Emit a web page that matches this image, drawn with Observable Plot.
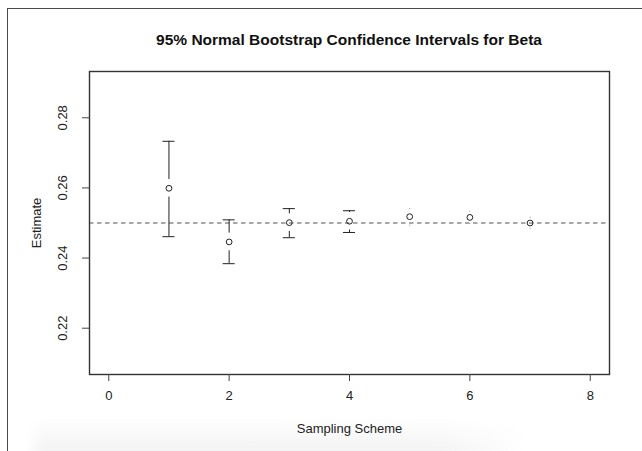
<!DOCTYPE html>
<html>
<head>
<meta charset="utf-8">
<script src="https://cdn.jsdelivr.net/npm/d3@7"></script>
<script src="https://cdn.jsdelivr.net/npm/@observablehq/plot@0.6"></script>
<style>
  body { margin: 0; background: #fff; font-family: "Liberation Sans", Arial, Helvetica, sans-serif; }
  #page { position: relative; width: 642px; height: 451px; overflow: hidden; background: #fff; }
  #edge { position: absolute; left: 7px; top: 8px; right: -4px; bottom: -4px;
          border-top: 1.5px solid #4a4a4a; border-left: 1.5px solid #4a4a4a; }
  #shade { position: absolute; left: 25px; top: 418px; width: 500px; height: 33px;
           background: linear-gradient(to bottom, rgba(235,235,235,0), rgba(235,235,235,0.6));
           -webkit-mask-image: linear-gradient(to right, transparent 0, #000 4%, #000 82%, transparent 100%);
           mask-image: linear-gradient(to right, transparent 0, #000 4%, #000 82%, transparent 100%); }
  #chart { position: absolute; left: 0; top: 0; }
  #title { position: absolute; left: 89px; width: 520px; top: 31px; line-height: 18px;
           text-align: center; font-weight: bold; font-size: 15.5px; color: #111; }
</style>
</head>
<body>
<div id="page">
  <div id="edge"></div>
  <div id="shade"></div>
  <div id="chart"></div>
  <div id="title">95% Normal Bootstrap Confidence Intervals for Beta</div>
</div>
<script>
// Bootstrap estimates of beta with 95% normal confidence limits, per sampling scheme
const scheme   = [1, 2, 3, 4, 5, 6, 7];
const estimate = [0.2599, 0.2446, 0.2501, 0.2505, 0.2518, 0.2516, 0.2500];
const lower    = [0.2461, 0.2384, 0.2458, 0.2473, 0.2494, 0.2499, 0.2485];
const upper    = [0.2733, 0.2509, 0.2541, 0.2535, 0.2541, 0.2534, 0.2516];
const trueBeta = 0.25;

const xTicks = [0, 2, 4, 6, 8];
const yTicks = [0.22, 0.24, 0.26, 0.28];

const rows = scheme.map((s, i) => ({scheme: s, est: estimate[i], lo: lower[i], hi: upper[i]}));

// plotCI-style: whiskers leave a gap around each point; caps only where the bar clears the gap
const gap = 0.0025;
const capHalf = 0.1;
const upBars = rows.filter(d => d.hi > d.est + gap);
const loBars = rows.filter(d => d.lo < d.est - gap);
const upNubs = rows.filter(d => d.hi <= d.est + gap);
const loNubs = rows.filter(d => d.lo >= d.est - gap);

const ink = "#222";

const chart = Plot.plot({
  width: 642,
  height: 451,
  marginLeft: 89,
  marginRight: 33,
  marginTop: 71,
  marginBottom: 77,
  style: {background: "transparent", fontFamily: "Liberation Sans, Arial, sans-serif", color: ink},
  x: {domain: [-0.32, 8.32]},
  y: {domain: [0.2068, 0.2932]},
  marks: [
    Plot.ruleY([trueBeta], {stroke: "#555", strokeDasharray: "4.5,3.5", strokeWidth: 1.1}),
    Plot.ruleX(upBars, {x: "scheme", y1: d => d.est + gap, y2: "hi", stroke: ink}),
    Plot.ruleX(loBars, {x: "scheme", y1: "lo", y2: d => d.est - gap, stroke: ink}),
    Plot.ruleY(upBars, {y: "hi", x1: d => d.scheme - capHalf, x2: d => d.scheme + capHalf, stroke: ink}),
    Plot.ruleY(loBars, {y: "lo", x1: d => d.scheme - capHalf, x2: d => d.scheme + capHalf, stroke: ink}),
    Plot.dot(upNubs, {x: "scheme", y: "hi", r: 0.6, fill: "#999"}),
    Plot.dot(loNubs, {x: "scheme", y: "lo", r: 0.6, fill: "#999"}),
    Plot.dot(rows, {x: "scheme", y: "est", r: 2.9, stroke: ink, strokeWidth: 1, fill: "none"}),
    Plot.frame({stroke: "#333", strokeWidth: 1.4}),
    Plot.axisX(xTicks, {tickSize: 7, tickPadding: 9, fontSize: 13, label: null, stroke: "#444"}),
    Plot.axisY(yTicks, {tickSize: 7, tickFormat: () => "", label: null, stroke: "#444"}),
    Plot.text(yTicks, {y: d => d, text: d => d.toFixed(2), frameAnchor: "left", textAnchor: "middle",
                       dx: -27, rotate: -90, fontSize: 13, fill: ink}),
    Plot.text(["Estimate"], {text: d => d, frameAnchor: "left", textAnchor: "middle",
                             dx: -53, rotate: -90, fontSize: 13, fill: ink}),
    Plot.text(["Sampling Scheme"], {text: d => d, frameAnchor: "bottom", dy: 58, fontSize: 13, fill: ink})
  ]
});
document.getElementById("chart").appendChild(chart);
</script>
</body>
</html>
